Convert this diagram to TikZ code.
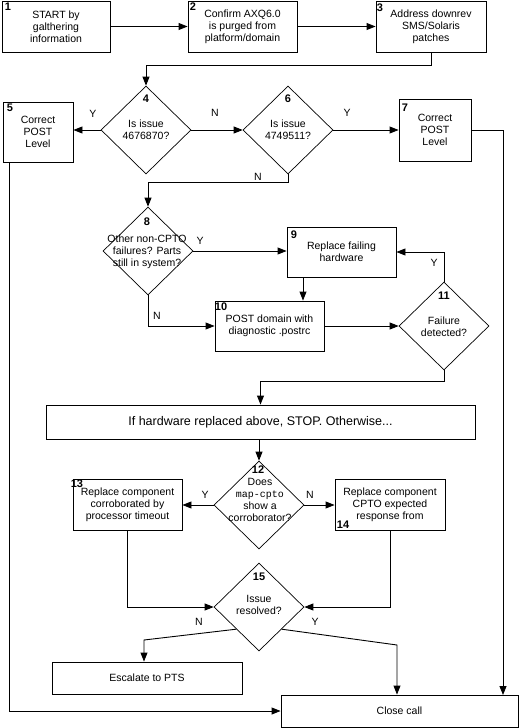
\documentclass[tikz,border=0pt]{standalone}
\usepackage{fontspec}
\setmainfont{Liberation Sans}
\newfontfamily\monofont{Liberation Mono}
\usetikzlibrary{shapes.geometric,arrows.meta}
\begin{document}
\begin{tikzpicture}[x=1pt,y=-1pt, line width=0.9pt,
 box/.style={draw, rectangle, inner sep=0pt, align=center, font=\fontsize{10.5}{12}\selectfont},
 dia/.style={draw, diamond, inner sep=0pt, line width=0.7pt, minimum width=90pt, minimum height=88pt},
 txt/.style={align=center, inner sep=0pt, font=\fontsize{10.5}{12}\selectfont},
 num/.style={inner sep=0pt, font=\bfseries\fontsize{11}{12}\selectfont},
 lab/.style={inner sep=0pt, font=\fontsize{10.5}{12}\selectfont},
 arr/.style={-{Triangle[length=9pt,width=7pt]}}
]
\useasboundingbox (0,0) rectangle (519,728);
\fill[white] (0,0) rectangle (519,728);

% boxes
\node[box, minimum width=108pt, minimum height=51pt] (b1) at (56,26.5) {START by\\galthering\\information};
\node[box, minimum width=109pt, minimum height=51pt] (b2) at (242.5,26.5) {Confirm AXQ6.0\\is purged from\\platform/domain};
\node[box, minimum width=110pt, minimum height=51pt] (b3) at (431,26.5) {Address downrev\\SMS/Solaris\\patches};
\node[box, minimum width=70pt, minimum height=60pt] (b5) at (38,132) {Correct\\POST\\Level};
\node[box, minimum width=72pt, minimum height=62pt] (b7) at (435,130) {Correct\\POST\\Level};
\node[box, minimum width=109pt, minimum height=50pt] (b9) at (341.5,252) {Replace failing\\hardware};
\node[box, minimum width=109pt, minimum height=50pt] (b10) at (269.5,326) {POST domain with\\diagnostic .postrc};
\node[box, minimum width=429pt, minimum height=34pt, font=\fontsize{12.5}{14}\selectfont] (bif) at (260.5,422) {If hardware replaced above, STOP. Otherwise...};
\node[box, minimum width=109pt, minimum height=51pt] (b13) at (127.5,504.5) {Replace component\\corroborated by\\processor timeout};
\node[box, minimum width=110pt, minimum height=51pt] (b14) at (390,504.5) {Replace component\\CPTO expected\\response from};
\node[box, minimum width=190pt, minimum height=32pt] (besc) at (147,678) {Escalate to PTS};
\node[box, minimum width=237pt, minimum height=32pt] (bclose) at (399.5,711) {Close call};

% diamonds
\node[dia] (d4) at (146,130) {};
\node[dia] (d6) at (288,130) {};
\node[dia] (d8) at (148,251) {};
\node[dia] (d11) at (444,326) {};
\node[dia] (d12) at (259,505) {};
\node[dia] (d15) at (259,607) {};

\node[txt] (t4) at (146,130) {Is issue\\4676870?};
\node[txt] (t6) at (288,130) {Is issue\\4749511?};
\node[txt] (t8) at (147,252) {Other non-CPTO\\failures? Parts\\still in system?};
\node[txt] (t11) at (444,327) {Failure\\detected?};
\node[txt] (t12) at (260,500) {Does\\{\monofont\fontsize{10}{12}\selectfont map-cpto}\\show a\\corroborator?};
\node[txt] (t15) at (259,605) {Issue\\resolved?};

% numbers
\node[num] (n1) at (8,7) {1};
\node[num] (n2) at (193,7) {2};
\node[num] (n3) at (380,8) {3};
\node[num] (n4) at (146,99) {4};
\node[num] (n5) at (10,108) {5};
\node[num] (n6) at (288,99) {6};
\node[num] (n7) at (405,108) {7};
\node[num] (n8) at (147,222) {8};
\node[num] (n9) at (294,235) {9};
\node[num] (n10) at (221,307) {10};
\node[num] (n11) at (444,296) {11};
\node[num] (n12) at (258,470) {12};
\node[num] (n13) at (77,484) {13};
\node[num] (n14) at (343,525) {14};
\node[num] (n15) at (259,577) {15};

% helper coordinates
\coordinate (c7) at (503,695);
\coordinate (c5) at (9,162);
\coordinate (c9) at (303,277);
\coordinate (cN) at (144,640);
\coordinate (cY) at (397,645);

% connectors
\draw[arr] (b1.east) -- (b2.west);
\draw[arr] (b2.east) -- (b3.west);
\draw[arr] (b3.south) -- ++(0,13) -| (d4.north);
\draw[arr] (d4.west) -- (d4.west -| b5.east);
\draw[arr] (d4.east) -- (d6.west);
\draw[arr] (d6.east) -- (d6.east -| b7.west);
\draw[arr] (b7.east) -| (c7);
\draw[arr] (d6.south) -- ++(0,8) -| (d8.north);
\draw[arr] (d8.east) -- (d8.east -| b9.west);
\draw[arr] (d8.south) |- (b10.west);
\draw[arr] (c9) -- (c9 |- b10.north);
\draw[arr] (b10.east) -- (d11.west);
\draw[arr] (d11.north) |- (b9.east);
\draw[arr] (d11.south) -- ++(0,11) -| (bif.north);
\draw[arr] (bif.south -| d12.north) -- (d12.north);
\draw[arr] (d12.west) -- (d12.west -| b13.east);
\draw[arr] (d12.east) -- (d12.east -| b14.west);
\draw[arr] (b13.south) |- (d15.west);
\draw[arr] (b14.south) |- (d15.east);
\draw[arr] (d15.south west) -- (cN) -- (cN |- besc.north);
\draw[arr] (d15.south east) -- (cY) -- (cY |- bclose.north);
\draw[arr] (c5) |- (bclose.west);

% branch labels
\node[lab] (y4) at (93,114) {Y};
\node[lab] (n4l) at (215,113) {N};
\node[lab] (y6) at (347,113) {Y};
\node[lab] (n6l) at (258,177) {N};
\node[lab] (y8) at (200,241) {Y};
\node[lab] (n8l) at (157,316) {N};
\node[lab] (y11) at (434,263) {Y};
\node[lab] (y12) at (205,495) {Y};
\node[lab] (n12l) at (310,495) {N};
\node[lab] (n15l) at (199,622) {N};
\node[lab] (y15) at (315,622) {Y};
\end{tikzpicture}
\end{document}
